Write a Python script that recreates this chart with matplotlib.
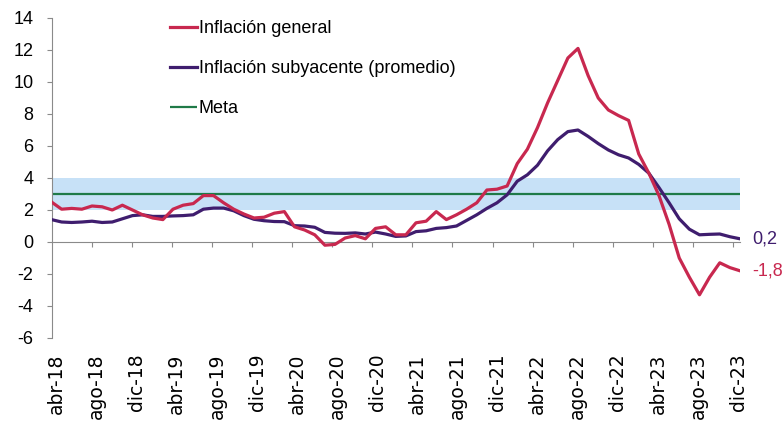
import numpy as np
import matplotlib
matplotlib.use("Agg")
import matplotlib.pyplot as plt

plt.rcParams['font.family'] = ['Liberation Sans', 'DejaVu Sans']
plt.rcParams['axes.unicode_minus'] = False

# monthly series, abr-18 .. dic-23
general = [2.5, 2.05, 2.1, 2.05, 2.25, 2.2, 2.0, 2.3, 2.0, 1.7, 1.5, 1.4,
           2.05, 2.3, 2.4, 2.9, 2.9, 2.45, 2.05, 1.75, 1.5, 1.55, 1.8, 1.9,
           0.95, 0.75, 0.45, -0.2, -0.15, 0.25, 0.4, 0.2, 0.85, 0.95, 0.45, 0.45,
           1.2, 1.3, 1.9, 1.4, 1.7, 2.05, 2.45, 3.25, 3.3, 3.5, 4.9, 5.8,
           7.15, 8.7, 10.1, 11.5, 12.1, 10.4, 9.0, 8.25, 7.9, 7.6, 5.5, 4.3,
           2.9, 1.1, -1.0, -2.2, -3.3, -2.2, -1.3, -1.6, -1.8]
subyacente = [1.4, 1.25, 1.22, 1.25, 1.3, 1.22, 1.25, 1.45, 1.65, 1.7, 1.6, 1.6,
              1.63, 1.65, 1.7, 2.05, 2.12, 2.12, 1.95, 1.65, 1.42, 1.33, 1.28, 1.27,
              1.02, 1.0, 0.92, 0.6, 0.55, 0.54, 0.57, 0.5, 0.62, 0.5, 0.35, 0.38,
              0.65, 0.7, 0.85, 0.9, 1.0, 1.35, 1.7, 2.1, 2.45, 2.95, 3.8, 4.2,
              4.8, 5.7, 6.4, 6.9, 7.0, 6.6, 6.15, 5.75, 5.45, 5.25, 4.85, 4.3,
              3.4, 2.45, 1.45, 0.8, 0.45, 0.48, 0.5, 0.33, 0.2]
meta = 3.0
rango = (2.0, 4.0)
tick_labels = ['abr-18', 'ago-18', 'dic-18', 'abr-19', 'ago-19', 'dic-19',
               'abr-20', 'ago-20', 'dic-20', 'abr-21', 'ago-21', 'dic-21',
               'abr-22', 'ago-22', 'dic-22', 'abr-23', 'ago-23', 'dic-23']

RED = '#C8284F'
PURPLE = '#3F1D6E'
GREEN = '#1F7A48'
BAND = '#C7E1F7'
GRAY = '#8A8A8A'

x = np.arange(len(general))
# the category axis runs a touch shorter than the line in the original
tick_pos = np.arange(len(tick_labels)) * 4 * 0.99

fig = plt.figure(figsize=(7.83, 4.23), dpi=100)
ax = fig.add_axes([51.5 / 783, 85 / 423, (740 - 51.5) / 783, 320 / 423])

ax.fill_between(x, rango[0], rango[1], color=BAND, lw=0, zorder=1)
ax.hlines(meta, x[0], x[-1], color=GREEN, lw=1.6, zorder=2, label='Meta')
ax.plot(x, general, color=RED, lw=2.3, solid_joinstyle='round', zorder=4,
        label='Inflación general')
ax.plot(x, subyacente, color=PURPLE, lw=2.3, solid_joinstyle='round', zorder=3,
        label='Inflación subyacente (promedio)')

# end labels
for serie, col in [(subyacente, PURPLE), (general, RED)]:
    ax.annotate(f"{serie[-1]:.1f}".replace('.', ','), (x[-1], serie[-1]),
                xytext=(9, 0), textcoords='offset points', va='center',
                ha='left', color=col, fontsize=13, annotation_clip=False)

ax.set_xlim(0, 68)
ax.set_ylim(-6, 14)
ax.set_yticks(range(-6, 15, 2))
ax.tick_params(axis='y', direction='out', length=3.6, color=GRAY, labelsize=13, pad=9.5)

for s in ['top', 'right']:
    ax.spines[s].set_visible(False)
ax.spines['left'].set_color(GRAY)
ax.spines['bottom'].set_color(GRAY)
ax.spines['bottom'].set_position(('data', 0))
ax.set_xticks(tick_pos[1:])
ax.tick_params(axis='x', direction='out', length=3.6, color=GRAY, labelbottom=False)

sec = ax.secondary_xaxis('bottom')
sec.set_xticks(tick_pos + 0.5, tick_labels, rotation=90, family='DejaVu Sans', fontsize=13.5)
sec.tick_params(length=0, pad=11)
sec.spines['bottom'].set_visible(False)

h, l = ax.get_legend_handles_labels()
order = [1, 2, 0]
ax.legend([h[i] for i in order], [l[i] for i in order], loc='upper left',
          bbox_to_anchor=(170 / 783, 1 - 20 / 423), bbox_transform=fig.transFigure,
          frameon=False, fontsize=13, handlelength=1.5, handletextpad=0.1,
          labelspacing=1.28, borderpad=0, borderaxespad=0)

fig.savefig('out.png', dpi=100)
